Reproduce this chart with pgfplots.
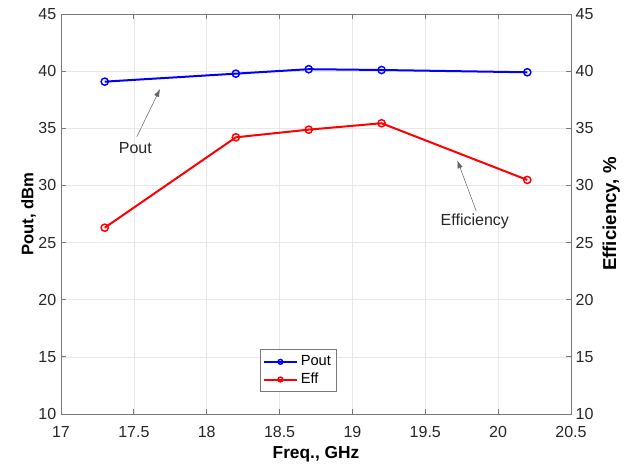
\documentclass[border=0pt]{standalone}
\usepackage{pgfplots}
\pgfplotsset{compat=1.18}
\usepackage{fontspec}
\setmainfont{Liberation Sans}
\usetikzlibrary{arrows.meta,calc}
\definecolor{axgray}{RGB}{120,120,120}
\definecolor{txt}{RGB}{38,38,38}
\begin{document}
\begin{tikzpicture}
\pgfplotsset{
  common/.style={
    scale only axis, width=382.5pt, height=300pt,
    xmin=17, xmax=20.5, ymin=10, ymax=45,
    ytick={10,15,...,45},
    tick align=inside,
    axis line style={axgray, line width=0.6pt},
    major tick style={axgray, line width=0.6pt},
    major tick length=4pt,
    ticklabel style={font=\fontsize{12}{14}\selectfont, text=txt},
    label style={font=\bfseries\fontsize{13}{15}\selectfont, text=black},
    /pgf/number format/assume math mode=true,
  }
}
\begin{axis}[common, name=main,
  xtick={17,17.5,18,18.5,19,19.5,20,20.5},
  xticklabels={17,17.5,18,18.5,19,19.5,20,20.5},
  xticklabel style={yshift=-5.5pt},
  ytick pos=left,
  xtick pos=both,
  grid=major, grid style={gray!18, line width=0.5pt},
  xlabel={Freq., GHz}, ylabel={Pout, dBm},
  ylabel style={yshift=-5pt, font=\bfseries\fontsize{12.5}{15}\selectfont},
  legend style={at={(rel axis cs:0.465,0.108)}, anchor=center, font=\fontsize{11}{13}\selectfont, draw=axgray, line width=0.5pt, inner xsep=2pt, inner ysep=2.5pt, row sep=0pt},
  legend cell align=left,
  legend image code/.code={\draw[#1, line width=1.5pt] (0cm,0cm) -- (0.88cm,0cm); \draw[#1, only marks, mark size=1.8pt] plot coordinates {(0.44cm,0cm)};},
]
\addplot[blue, line width=1.5pt, mark=o, mark size=2.7pt, mark options={line width=1.1pt}] coordinates {
 (17.3,39.08) (18.2,39.78) (18.7,40.17) (19.2,40.1) (20.2,39.9)};
\addlegendentry{Pout}
\addplot[red, line width=1.5pt, mark=o, mark size=2.7pt, mark options={line width=1.1pt}] coordinates {
 (17.3,26.3) (18.2,34.21) (18.7,34.88) (19.2,35.44) (20.2,30.48)};
\addlegendentry{Eff}
\node[font=\fontsize{12}{14}\selectfont, text=txt] at (axis cs:17.51,33.28) {Pout};
\draw[-{Latex[length=6pt,width=4pt]}, gray!80!black, line width=0.4pt] (axis cs:17.52,34.25) -- (axis cs:17.68,38.45);
\node[font=\fontsize{12}{14}\selectfont, text=txt] at (axis cs:19.84,26.85) {Efficiency};
\draw[-{Latex[length=6pt,width=4pt]}, gray!80!black, line width=0.4pt] (axis cs:19.85,27.75) -- (axis cs:19.72,32.2);
\end{axis}
\begin{axis}[common,
  axis x line=none,
  axis y line*=right,
  ylabel={Efficiency, \%},
  ylabel style={font=\bfseries\fontsize{14}{16}\selectfont},
]
\end{axis}
\pgfresetboundingbox
\path ($(main.south west)+(-45.75pt,-39pt)$) rectangle ($(main.north east)+(47.25pt,10.5pt)$);
\end{tikzpicture}
\end{document}
